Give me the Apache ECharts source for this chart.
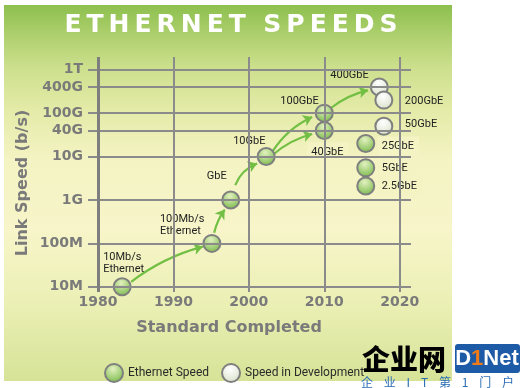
<!DOCTYPE html>
<html><head><meta charset="utf-8">
<script src="https://cdn.jsdelivr.net/npm/echarts@6/dist/echarts.min.js"></script>
<style>html,body{margin:0;padding:0;background:#fff}#c{width:520px;height:388px}</style>
</head><body><div id="c"></div>
<script>
// ---- data ----
const yearTicks = [1980, 1990, 2000, 2010, 2020];
const speedTicks = [1e7, 1e8, 1e9, 1e10, 4e10, 1e11, 4e11, 1e12];
const speedTickLabels = ['10M', '100M', '1G', '10G', '40G', '100G', '400G', '1T'];

const ethNames = ['10Mb/s\nEthernet', '100Mb/s\nEthernet', 'GbE', '10GbE', '40GbE', '100GbE', '25GbE', '5GbE', '2.5GbE'];
const ethYears = [1983.2, 1995.1, 1997.6, 2002.3, 2010, 2010, 2015.5, 2015.5, 2015.5];
const ethSpeeds = [1e7, 1e8, 1e9, 1e10, 4e10, 1e11, 2e10, 5.5e9, 2.1e9];

const devNames = ['400GbE', '200GbE', '50GbE'];
const devYears = [2017.3, 2017.9, 2017.9];
const devSpeeds = [4e11, 2e11, 5e10];

const arrowFrom = [[1984.4, 1.3e7], [1995.4, 1.75e8], [1998.2, 2.2e9], [2003.1, 1.28e10], [2003.2, 1.1e10], [2010.8, 1.28e11]];
const arrowTo = [[1993.9, 8.4e7], [1996.8, 6e8], [2001.1, 6.9e9], [2008.4, 8.2e10], [2008.4, 3.3e10], [2015.8, 3.36e11]];

// ---- layout / style (not data) ----
const arrowCurve = [0.1, 0.1, 0.22, 0.15, 0.12, 0.12];
const ethLabelOffsets = [[-19, -24], [-52, -18], [-24, -24], [-33, -15], [-17, 22], [-44, -12], [12, 3], [12, 0], [12, 0]];
const ethLabelBg = [false, false, false, false, true, false, true, true, true];
const devLabelOffsets = [[-49, -12], [21, 1], [21, -2]];

const xMin = 1978.674, xMax = 2021.5;
const yMin = Math.pow(10, 6.880), yMax = Math.pow(10, 12.2937);

const LABEL_FONT = 'Roboto, "Liberation Sans", sans-serif';
const AXIS_FONT = '"DejaVu Sans", sans-serif';
const BG_PATCH = '#f4f3c4';

const greenFill = {type: 'radial', x: 0.45, y: 0.3, r: 0.8,
  colorStops: [{offset: 0, color: '#e2f1c0'}, {offset: 1, color: '#6cb23a'}]};
const whiteFill = {type: 'radial', x: 0.45, y: 0.3, r: 0.8,
  colorStops: [{offset: 0, color: '#ffffff'}, {offset: 1, color: '#d3ddc3'}]};

function pointLabel(offset, bg) {
  const l = {show: true, position: 'inside', align: 'left', verticalAlign: 'middle',
    offset: offset, color: '#222222', fontFamily: LABEL_FONT, fontSize: 11, lineHeight: 12};
  if (bg) { l.backgroundColor = BG_PATCH; l.padding = [4, 5, 4, 4]; }
  return l;
}

const ethData = ethYears.map((y, i) => ({value: [y, ethSpeeds[i]], name: ethNames[i],
  label: pointLabel(ethLabelOffsets[i], ethLabelBg[i])}));
const devData = devYears.map((y, i) => ({value: [y, devSpeeds[i]], name: devNames[i],
  label: pointLabel(devLabelOffsets[i], false)}));

const gridStyle = {color: '#8b8b8b', width: 2, type: 'solid'};
const hLines = speedTicks.map(v => [{coord: [xMin + 0.001, v], lineStyle: gridStyle}, {coord: [xMax - 0.001, v], lineStyle: gridStyle}]);
const vLines = yearTicks.map(y => {
  const st = y === 1980 ? {color: '#7e7e7e', width: 3, type: 'solid'} : gridStyle;
  return [{coord: [y, yMin * 1.001], lineStyle: st}, {coord: [y, yMax / 1.001], lineStyle: st}];
});

function fmtSpeed(v) {
  const i = speedTicks.findIndex(t => Math.abs(t - v) / t < 1e-6);
  return i >= 0 ? speedTickLabels[i] : '';
}

const titleText = 'ETHERNET'.split('').join('\u2009') + '\u2002\u2009' + 'SPEEDS'.split('').join('\u2009');
const wmGap = '\u2002\u2009\u2009';
const watermarkSub = ['企', '业', 'I', 'T', '第', '1', '门', '户'].join(wmGap);

const chart = echarts.init(document.getElementById('c'), null, {renderer: 'canvas'});
chart.setOption({
  animation: false,
  backgroundColor: '#ffffff',
  grid: {left: 88, top: 57, width: 323, height: 235, containLabel: false},
  xAxis: {type: 'value', min: xMin, max: xMax,
    axisLine: {show: false}, axisTick: {show: false}, splitLine: {show: false},
    axisLabel: {customValues: yearTicks, margin: 3, color: '#7a7a7a', fontFamily: AXIS_FONT, fontWeight: 'bold', fontSize: 14,
      formatter: v => String(Math.round(v))}},
  yAxis: {type: 'log', logBase: 10, min: yMin, max: yMax,
    axisLine: {show: false}, axisTick: {show: false}, splitLine: {show: false}, minorSplitLine: {show: false},
    axisLabel: {customValues: speedTicks, margin: 5, color: '#7a7a7a', fontFamily: AXIS_FONT, fontWeight: 'bold', fontSize: 14,
      formatter: fmtSpeed}},
  legend: {data: ['Ethernet Speed', 'Speed in Development'], left: 99, top: 358, icon: 'circle',
    itemWidth: 18, itemHeight: 18, itemGap: 12,
    textStyle: {fontFamily: LABEL_FONT, fontSize: 12, color: '#2a2a2a'}},
  graphic: [
    {type: 'rect', z: -10, silent: true, shape: {x: 4, y: 5, width: 448, height: 376},
      style: {fill: {type: 'linear', x: 0, y: 0, x2: 0, y2: 1, colorStops: [
        {offset: 0, color: '#8dc04e'}, {offset: 0.093, color: '#b3d273'}, {offset: 0.17, color: '#cde08e'},
        {offset: 0.28, color: '#e4eba8'}, {offset: 0.41, color: '#f4f3c3'}, {offset: 0.6, color: '#f7f5c9'},
        {offset: 0.78, color: '#ecf0b6'}, {offset: 1, color: '#d6e397'}]}}},
    {type: 'text', z: 100, silent: true, x: 231, y: 25,
      style: {text: titleText, fill: '#ffffff', fontFamily: AXIS_FONT, fontWeight: 'bold', fontSize: 25, align: 'center', verticalAlign: 'middle'}},
    {type: 'text', z: 100, silent: true, x: 23, y: 183, rotation: Math.PI / 2,
      style: {text: 'Link Speed (b/s)', fill: '#7a7a7a', fontFamily: AXIS_FONT, fontWeight: 'bold', fontSize: 16, align: 'center', verticalAlign: 'middle'}},
    {type: 'text', z: 100, silent: true, x: 229, y: 328,
      style: {text: 'Standard Completed', fill: '#7a7a7a', fontFamily: AXIS_FONT, fontWeight: 'bold', fontSize: 16, align: 'center', verticalAlign: 'middle'}},
    {type: 'text', z: 100, silent: true, x: 362, y: 359,
      style: {text: '企业网', fontFamily: '"Noto Sans CJK SC", sans-serif', fontWeight: 900, fontSize: 28, align: 'left', verticalAlign: 'middle',
        fill: {type: 'linear', x: 0, y: 0, x2: 0, y2: 1, colorStops: [{offset: 0, color: '#f8a531'}, {offset: 1, color: '#e0500e'}]}}},
    {type: 'rect', z: 99, silent: true, shape: {x: 455, y: 344, width: 65, height: 29, r: 3}, style: {fill: '#1d5ba6'}},
    {type: 'text', z: 100, silent: true, x: 487, y: 359,
      style: {text: '{w|D}{o|1}{w|Net}', align: 'center', verticalAlign: 'middle',
        rich: {w: {fill: '#ffffff', fontFamily: '"Liberation Sans", sans-serif', fontWeight: 'bold', fontSize: 22},
               o: {fill: '#f07b18', fontFamily: '"Liberation Sans", sans-serif', fontWeight: 'bold', fontSize: 22}}}},
    {type: 'text', z: 100, silent: true, x: 361, y: 382,
      style: {text: watermarkSub,
        fill: '#2a6db5', fontFamily: '"Noto Sans CJK SC", sans-serif', fontSize: 12, align: 'left', verticalAlign: 'middle'}}
  ],
  series: [
    {name: '_grid', type: 'scatter', z: 1, silent: true, symbolSize: 0, data: [[2000, 1e9]], itemStyle: {opacity: 0},
      markLine: {silent: true, animation: false, symbol: ['none', 'none'], label: {show: false},
        emphasis: {disabled: true}, lineStyle: gridStyle, data: hLines.concat(vLines)}},
    {name: 'arrows', type: 'lines', coordinateSystem: 'cartesian2d', z: 2, silent: true,
      symbol: ['none', 'arrow'], symbolSize: 9,
      lineStyle: {color: '#72bf44', width: 2.2, opacity: 1, curveness: 0.15},
      data: arrowFrom.map((f, i) => ({coords: [f, arrowTo[i]], lineStyle: {curveness: arrowCurve[i]}}))},
    {name: 'Ethernet Speed', type: 'scatter', z: 3, symbol: 'circle', symbolSize: 17,
      itemStyle: {color: greenFill, borderColor: '#7f7f7f', borderWidth: 2, opacity: 1},
      label: {formatter: p => p.name}, emphasis: {disabled: true}, data: ethData},
    {name: 'Speed in Development', type: 'scatter', z: 3, symbol: 'circle', symbolSize: 17,
      itemStyle: {color: whiteFill, borderColor: '#7f7f7f', borderWidth: 2, opacity: 1},
      label: {formatter: p => p.name}, emphasis: {disabled: true}, data: devData}
  ]
});
</script>
</body></html>
